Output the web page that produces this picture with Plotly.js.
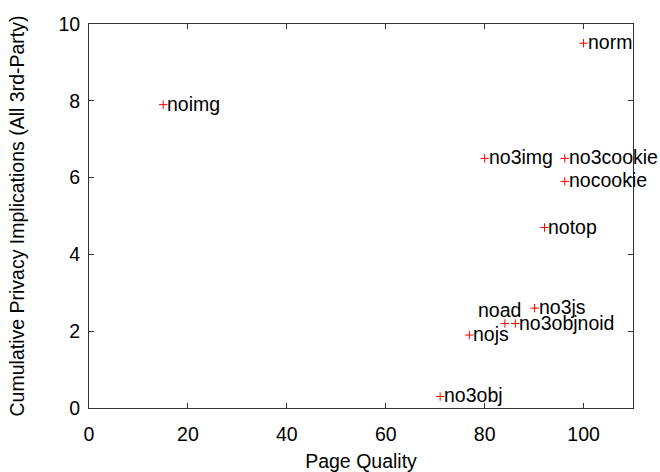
<!DOCTYPE html>
<html>
<head>
<meta charset="utf-8">
<script src="https://cdn.plot.ly/plotly-3.0.1.min.js"></script>
<style>html,body{margin:0;padding:0;background:#fff;}#chart{width:660px;height:472px;}</style>
</head>
<body>
<div id="chart"></div>
<script>
// Data
var configs = ["norm", "noimg", "no3img", "no3cookie", "nocookie", "notop", "no3js", "noad", "no3objnoid", "nojs", "no3obj"];
var pageQuality = [100, 15, 80, 96.2, 96.2, 92.1, 90.1, 84.1, 86.2, 76.9, 71];
var privacy = [9.5, 7.9, 6.5, 6.5, 5.9, 4.7, 2.6, 2.2, 2.2, 1.9, 0.3];
var xTicks = [0, 20, 40, 60, 80, 100];
var yTicks = [0, 2, 4, 6, 8, 10];

var FONT = "Liberation Sans, Arial, Helvetica, sans-serif";
var FS = 19.5;

// label placement styles (not data)
var special = { "noad": { xanchor: "center", xshift: -5, yshift: 14 } };

var annotations = configs.map(function (c, i) {
  var s = special[c] || { xanchor: "left", xshift: 2, yshift: 1 };
  return {
    x: pageQuality[i], y: privacy[i], xref: "x", yref: "y",
    text: c, showarrow: false,
    xanchor: s.xanchor, yanchor: "middle",
    xshift: s.xshift, yshift: s.yshift,
    font: { family: FONT, size: FS, color: "#000" }
  };
});

var trace = {
  type: "scatter", mode: "markers",
  x: pageQuality, y: privacy,
  marker: { symbol: "cross-thin-open", size: 6, color: "#ff0000", line: { color: "#ff0000", width: 1 } },
  cliponaxis: false,
  hoverinfo: "none"
};

var axisCommon = {
  showgrid: false, zeroline: false, showline: true, mirror: "ticks",
  linecolor: "#333", linewidth: 1,
  ticks: "inside", ticklen: 5, tickcolor: "#333", tickwidth: 1,
  tickfont: { family: FONT, size: FS, color: "#000" }
};

var layout = {
  width: 660, height: 472,
  margin: { l: 89, r: 27, t: 24, b: 64 },
  paper_bgcolor: "#fff", plot_bgcolor: "#fff",
  showlegend: false,
  xaxis: Object.assign({}, axisCommon, {
    range: [0, 110], tickmode: "array", tickvals: xTicks, ticktext: xTicks.map(String),
    ticklabelstandoff: 9,
    title: { text: "Page Quality", font: { family: FONT, size: FS, color: "#000" }, standoff: 10 }
  }),
  yaxis: Object.assign({}, axisCommon, {
    range: [0, 10], tickmode: "array", tickvals: yTicks, ticktext: yTicks.map(String),
    ticklabelstandoff: 4,
    title: { text: "Cumulative Privacy Implications (All 3rd-Party)", font: { family: FONT, size: FS, color: "#000" }, standoff: 28 }
  }),
  annotations: annotations
};

Plotly.newPlot("chart", [trace], layout, { staticPlot: true, displayModeBar: false });
</script>
</body>
</html>
